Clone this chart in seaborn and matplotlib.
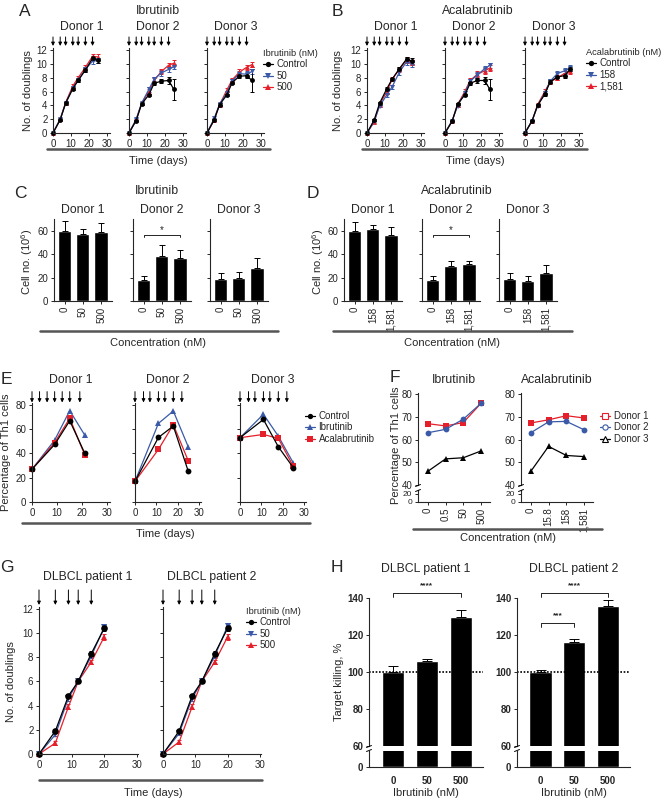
import numpy as np
import pandas as pd
import seaborn as sns
from matplotlib import pyplot as plt
from matplotlib.lines import Line2D

W, H = 663, 800
RED = "#e5202a"
BLUE = "#3a5aa8"

# ---------- data: A / B (doublings over time) ----------
donors = ["Donor 1", "Donor 2", "Donor 3"]
ab_days = [0, 4, 7, 11, 14, 18, 22, 25]
ab_arrows = [0, 4, 7, 11, 14, 18, 22]
a_ctrl = [[0, 1.9, 4.3, 6.4, 7.6, 9.1, 10.8, 10.5],
          [0, 1.8, 4.2, 5.5, 7.2, 7.5, 7.6, 6.3],
          [0, 1.9, 4.1, 5.5, 7.3, 8.2, 8.3, 7.6]]
a_ctrl_err = [[0, 0.1, 0.2, 0.2, 0.2, 0.3, 0.3, 0.4],
              [0, 0.1, 0.2, 0.2, 0.2, 0.3, 0.5, 1.5],
              [0, 0.1, 0.2, 0.2, 0.2, 0.2, 0.4, 1.7]]
a_50 = [[0, 2.0, 4.3, 6.5, 7.7, 9.2, 10.4, 10.5],
        [0, 2.0, 4.3, 6.3, 7.8, 8.7, 9.2, 9.6],
        [0, 2.1, 4.2, 5.8, 7.5, 8.6, 8.5, 8.9]]
a_500 = [[0, 2.0, 4.4, 6.8, 8.0, 9.5, 11.1, 11.0],
         [0, 1.9, 4.3, 6.0, 7.6, 8.9, 9.8, 10.1],
         [0, 1.9, 4.1, 6.2, 7.7, 8.8, 9.5, 9.9]]
b_ctrl = [[0, 1.9, 4.3, 6.4, 7.8, 9.3, 10.7, 10.4],
          [0, 1.7, 4.2, 5.5, 7.2, 7.6, 7.6, 6.3],
          [0, 1.8, 4.0, 5.6, 7.4, 8.1, 8.3, 9.2]]
b_ctrl_err = [[0, 0.1, 0.2, 0.2, 0.2, 0.3, 0.3, 0.4],
              [0, 0.1, 0.2, 0.2, 0.2, 0.3, 0.5, 1.5],
              [0, 0.1, 0.2, 0.2, 0.2, 0.2, 0.4, 0.3]]
b_158 = [[0, 1.7, 3.9, 5.5, 6.7, 8.8, 10.3, 10.0],
         [0, 1.8, 3.9, 5.8, 7.5, 8.4, 9.3, 9.8],
         [0, 1.8, 3.9, 5.8, 7.5, 8.6, 9.0, 9.4]]
b_1581 = [[0, 1.6, 4.1, 6.0, 7.8, 9.2, 10.6, 10.2],
          [0, 1.8, 4.1, 6.0, 7.6, 8.5, 9.0, 9.4],
          [0, 1.8, 4.1, 6.0, 7.4, 8.0, 8.6, 8.9]]
trt_err = [0, 0.1, 0.2, 0.3, 0.3, 0.4, 0.4, 0.4]

# ---------- data: C / D (cell numbers) ----------
c_conc = ["0", "50", "500"]
d_conc = ["0", "158", "1,581"]
c_vals = [[60, 57, 58.5], [18, 38.7, 37], [18.5, 19.3, 28.4]]
c_errs = [[8.2, 4.2, 8.2], [3.7, 8.8, 6.2], [5.1, 5.2, 8.0]]
d_vals = [[59.7, 61.1, 56.3], [17.9, 29.9, 31.3], [18.5, 17.1, 24.2]]
d_errs = [[8.0, 3.7, 7.1], [3.4, 4.2, 3.1], [5.1, 4.5, 6.5]]

# ---------- data: E (Th1 % over time) ----------
e_days = [[0, 9, 15, 21], [0, 11, 18, 25], [0, 11, 18, 25]]
e_arrows = [[0, 3, 6, 9, 12, 15, 19], [0, 4, 7, 11, 14, 18, 22], [0, 4, 7, 11, 14, 18, 22]]
e_ctrl = [[27, 47.4, 67, 40], [17, 53.2, 62.6, 25.4], [53, 68, 45.5, 28.4]]
e_ibru = [[27, 51, 75.3, 55], [17, 64.8, 75, 45.5], [53, 72.3, 54.3, 32.3]]
e_acala = [[27, 49, 69, 38.6], [17, 43.3, 63.7, 34], [53, 55.7, 52.4, 29.5]]

# ---------- data: F (Th1 % vs concentration) ----------
f_ibru_conc = ["0", "0.5", "50", "500"]
f_acala_conc = ["0", "15.8", "158", "1,581"]
f_ibru = [[67, 66, 67.5, 76], [63, 64.5, 69, 76], [46, 51.5, 52, 55]]
f_acala = [[67.3, 68.7, 70.5, 69.5], [63, 67.8, 68, 64.3], [46, 57, 53, 52.5]]

# ---------- data: G (DLBCL doublings) ----------
g_days = [0, 5, 9, 12, 16, 20]
g_arrows = [0, 5, 9, 12, 16]
g_ctrl = [[0, 1.9, 4.8, 6.0, 8.3, 10.4], [0, 1.9, 4.8, 6.0, 8.3, 10.4]]
g_50 = [[0, 1.6, 4.6, 6.0, 8.1, 10.5], [0, 1.7, 4.6, 6.0, 8.1, 10.6]]
g_500 = [[0, 0.9, 3.9, 6.0, 7.6, 9.7], [0, 1.0, 3.9, 6.0, 7.6, 9.7]]
g_err = [0, 0.15, 0.2, 0.15, 0.2, 0.25]

# ---------- data: H (target killing) ----------
h_conc = ["0", "50", "500"]
h_vals = [[100, 106, 130], [100, 116, 135.5]]
h_errs = [[3.0, 1.2, 3.6], [1.2, 1.6, 3.6]]

sns.set_style("ticks")
plt.rcParams["font.family"] = ["Liberation Sans", "DejaVu Sans"]
plt.rcParams["mathtext.fontset"] = "custom"
plt.rcParams["mathtext.rm"] = "Liberation Sans"

TICK = 7
LAB = 8
TITLE = 8.8

fig = plt.figure(figsize=(W / 100, H / 100), dpi=100)


def add_ax(x0, y0, x1, y1):
    return fig.add_axes([x0 / W, 1 - y1 / H, (x1 - x0) / W, (y1 - y0) / H])


def ftext(x, y, s, size=LAB, **kw):
    kw.setdefault("ha", "center")
    kw.setdefault("va", "center")
    fig.text(x / W, 1 - y / H, s, fontsize=size, **kw)


def fseg(x0, y0, x1, y1, color="black", lw=0.7):
    fig.add_artist(Line2D([x0 / W, x1 / W], [1 - y0 / H, 1 - y1 / H], color=color, lw=lw))


def base_style(ax, ylabels=True, size=TICK):
    sns.despine(ax=ax)
    for sp in ("left", "bottom"):
        ax.spines[sp].set_linewidth(0.8)
    ax.tick_params(length=2.5, width=0.7, labelsize=size, pad=1.5)
    if not ylabels:
        ax.tick_params(axis="y", labelleft=False)
    ax.set_xlabel("")
    ax.set_ylabel("")


def lines(ax, x, series, names, colors, markers, errs=None, ms=3.5):
    df = pd.concat([pd.DataFrame({"x": x, "y": v, "s": n}) for n, v in zip(names, series)])
    if errs is not None:
        for v, e, c in zip(series, errs, colors):
            ax.errorbar(x, v, yerr=e, fmt="none", ecolor=c, elinewidth=0.7,
                        capsize=1.2, capthick=0.7, clip_on=False)
    sns.lineplot(data=df, x="x", y="y", hue="s", style="s",
                 palette=dict(zip(names, colors)), markers=dict(zip(names, markers)),
                 dashes=False, markersize=ms, markeredgewidth=0, linewidth=0.9,
                 legend=False, errorbar=None, sort=False, ax=ax, clip_on=False)


def arrows(ax, days, y0, y1):
    tr = ax.get_xaxis_transform()
    for d in days:
        ax.annotate("", xy=(d, y0), xytext=(d, y1), xycoords=tr, textcoords=tr,
                    annotation_clip=False,
                    arrowprops=dict(arrowstyle="-|>", color="black", lw=0.7,
                                    mutation_scale=5, shrinkA=0, shrinkB=0))


def legend(x, y, names, colors, markers, title=None, size=7, hollow=False):
    handles = [Line2D([], [], color=c, marker=m, ms=3.8, lw=0.9,
                      mfc="white" if hollow else c, mec=c, mew=0.8 if hollow else 0)
               for c, m in zip(colors, markers)]
    fig.legend(handles, names, title=title, loc="upper left",
               bbox_to_anchor=(x / W, 1 - y / H), frameon=False, fontsize=size,
               title_fontsize=size - 0.3, handlelength=1.0, handletextpad=0.4,
               labelspacing=0.15, borderpad=0, borderaxespad=0, alignment="left")


def bars(ax, labels, vals, errs, width, capsize=2):
    sns.barplot(x=labels, y=vals, color="black", width=width, errorbar=None,
                saturation=1, ax=ax)
    if errs is not None:
        ax.errorbar(range(len(vals)), vals, yerr=[[0] * len(vals), errs], fmt="none",
                    ecolor="black", elinewidth=0.7, capsize=capsize, capthick=0.7,
                    clip_on=False)


def bracket(ax, x0, x1, y, drop, text, ty, size=7, weight="normal"):
    ax.plot([x0, x0, x1, x1], [y - drop, y, y, y - drop], color="black", lw=0.6,
            clip_on=False)
    ax.text((x0 + x1) / 2, ty, text, ha="center", va="center", fontsize=size,
            fontweight=weight, clip_on=False)


# ================= A & B =================
def growth_panel(boxes, ctrl, ctrl_err, low, high, low_name, high_name):
    for i, box in enumerate(boxes):
        ax = add_ax(*box)
        lines(ax, ab_days, [high[i], low[i], ctrl[i]], [high_name, low_name, "Control"],
              [RED, BLUE, "black"], ["^", "v", "o"], [trt_err, trt_err, ctrl_err[i]])
        ax.set_xlim(0, 31.7)
        ax.set_ylim(0, 12.3)
        ax.set_xticks([0, 10, 20, 30])
        ax.set_yticks(range(0, 13, 2))
        base_style(ax, ylabels=(i == 0))
        arrows(ax, ab_arrows, 1.024, 1.13)
        ftext((box[0] + box[2]) / 2, 27, donors[i], size=TITLE)


a_boxes = [(53, 48, 110, 133), (129, 48, 186, 133), (207, 48, 264, 133)]
growth_panel(a_boxes, a_ctrl, a_ctrl_err, a_50, a_500, "50", "500")
ftext(25, 12, "A", size=12.5)
ftext(158, 11, "Ibrutinib", size=TITLE)
ftext(28, 91, "No. of doublings", rotation=90)
fseg(47, 149, 270, 149, color="#555555", lw=1.8)
ftext(158, 161, "Time (days)")
legend(263, 49, ["Control", "50", "500"], ["black", BLUE, RED], ["o", "v", "^"],
       title="Ibrutinib (nM)")

b_boxes = [(367, 48, 424, 133), (445, 48, 502, 133), (525, 48, 582, 133)]
growth_panel(b_boxes, b_ctrl, b_ctrl_err, b_158, b_1581, "158", "1,581")
ftext(337, 12, "B", size=12.5)
ftext(478, 11, "Acalabrutinib", size=TITLE)
ftext(338, 91, "No. of doublings", rotation=90)
fseg(362, 149, 587, 149, color="#555555", lw=1.8)
ftext(475, 161, "Time (days)")
legend(586, 48, ["Control", "158", "1,581"], ["black", BLUE, RED], ["o", "v", "^"],
       title="Acalabrutinib (nM)")


# ================= C & D =================
def cell_panel(boxes, conc, vals, errs):
    for i, box in enumerate(boxes):
        ax = add_ax(*box)
        bars(ax, conc, vals[i], errs[i], 0.72)
        ax.set_xlim(-0.58, 2.6)
        ax.set_ylim(0, 70)
        ax.set_yticks([0, 20, 40, 60])
        base_style(ax, ylabels=(i == 0))
        ax.tick_params(axis="x", rotation=90)
        ftext((box[0] + box[2]) / 2, 210, donors[i], size=TITLE)
        if i == 1:
            bracket(ax, 0, 2, 56.5, 1.8, "*", 60.5)


c_boxes = [(54, 219, 112, 301), (133, 219, 191, 301), (210, 219, 268, 301)]
cell_panel(c_boxes, c_conc, c_vals, c_errs)
ftext(20, 193, "C", size=12.5)
ftext(157, 191, "Ibrutinib", size=TITLE)
ftext(27, 262, "Cell no. (10$^6$)", rotation=90)
fseg(40, 331, 278, 331, color="#555555", lw=1.8)
ftext(158, 343, "Concentration (nM)")

d_boxes = [(344, 219, 402, 301), (422, 219, 480, 301), (499, 219, 557, 301)]
cell_panel(d_boxes, d_conc, d_vals, d_errs)
ftext(313, 193, "D", size=12.5)
ftext(457, 191, "Acalabrutinib", size=TITLE)
ftext(318, 262, "Cell no. (10$^6$)", rotation=90)
fseg(333, 331, 572, 331, color="#555555", lw=1.8)
ftext(452, 343, "Concentration (nM)")

# ================= E =================
e_boxes = [(32, 403, 110, 502), (135, 403, 201, 502), (240, 403, 306, 502)]
e_names = ["Ibrutinib", "Acalabrutinib", "Control"]
for i, box in enumerate(e_boxes):
    ax = add_ax(*box)
    lines(ax, e_days[i], [e_ibru[i], e_acala[i], e_ctrl[i]], e_names,
          [BLUE, RED, "black"], ["^", "s", "o"], ms=4.2)
    ax.set_xlim(0, 31)
    ax.set_ylim(0, 81.6)
    ax.set_xticks([0, 10, 20, 30])
    ax.set_yticks([0, 20, 40, 60, 80])
    base_style(ax, ylabels=(i == 0))
    arrows(ax, e_arrows[i], 1.005, 1.115)
    ftext((box[0] + box[2]) / 2, 380, donors[i], size=TITLE)
ftext(6, 380, "E", size=12.5)
ftext(6, 452, "Percentage of Th1 cells", rotation=90)
fseg(22, 523, 310, 523, color="#555555", lw=1.8)
ftext(165, 534, "Time (days)")
legend(305, 411, ["Control", "Ibrutinib", "Acalabrutinib"], ["black", BLUE, RED],
       ["o", "^", "s"])

# ================= F =================
f_boxes = [(418, 490), (521, 593)]
f_titles = ["Ibrutinib", "Acalabrutinib"]
for (x0, x1), conc, vals, title in zip(f_boxes, [f_ibru_conc, f_acala_conc],
                                       [f_ibru, f_acala], f_titles):
    top = add_ax(x0, 393, x1, 485)
    bot = add_ax(x0, 490, x1, 502)
    pos = np.arange(len(conc))
    lines(top, pos, vals, donors, [RED, BLUE, "black"], ["s", "o", "^"], ms=4.2)
    for ax in (top, bot):
        ax.set_xlim(-0.55, 3.5)
    top.set_ylim(40, 80.5)
    top.set_yticks([40, 50, 60, 70, 80])
    bot.set_ylim(0, 30)
    bot.set_yticks([0, 20])
    base_style(top)
    base_style(bot)
    bot.tick_params(axis="y", labelsize=6)
    top.spines["bottom"].set_visible(False)
    top.tick_params(axis="x", bottom=False, labelbottom=False)
    bot.set_xticks(pos)
    bot.set_xticklabels(conc)
    bot.tick_params(axis="x", rotation=90)
    fseg(x0 - 2.5, 486.5, x0 + 2.5, 484.5)
    fseg(x0 - 2.5, 491.5, x0 + 2.5, 489.5)
    ftext((x0 + x1) / 2, 380, title, size=TITLE)
ftext(395, 378, "F", size=12.5)
ftext(396, 445, "Percentage of Th1 cells", rotation=90)
fseg(413, 529, 602, 529, color="#555555", lw=1.8)
ftext(508, 538, "Concentration (nM)")
legend(600, 411, donors, [RED, BLUE, "black"], ["s", "o", "^"], hollow=True)

# ================= G =================
g_boxes = [(39, 607, 138, 754), (163, 607, 261, 754)]
for i, box in enumerate(g_boxes):
    ax = add_ax(*box)
    lines(ax, g_days, [g_500[i], g_50[i], g_ctrl[i]], ["500", "50", "Control"],
          [RED, BLUE, "black"], ["^", "v", "o"], [g_err, g_err, g_err], ms=4.8)
    ax.set_xlim(0, 30.3)
    ax.set_ylim(0, 12.15)
    ax.set_xticks([0, 10, 20, 30])
    ax.set_yticks(range(0, 13, 2))
    base_style(ax, ylabels=(i == 0))
    arrows(ax, g_arrows, 1.014, 1.116)
ftext(7, 567, "G", size=12.5)
ftext(88, 577, "DLBCL patient 1", size=TITLE)
ftext(212, 577, "DLBCL patient 2", size=TITLE)
ftext(11, 682, "No. of doublings", rotation=90)
fseg(39, 780, 262, 780, color="#555555", lw=1.8)
ftext(153, 793, "Time (days)")
legend(246, 607, ["Control", "50", "500"], ["black", BLUE, RED], ["o", "v", "^"],
       title="Ibrutinib (nM)")

# ================= H =================
h_boxes = [(369, 483), (517, 630)]
h_titles = ["DLBCL patient 1", "DLBCL patient 2"]
for i, (x0, x1) in enumerate(h_boxes):
    top = add_ax(x0, 598, x1, 746)
    bot = add_ax(x0, 751, x1, 767)
    bars(top, h_conc, h_vals[i], h_errs[i], 0.66, capsize=3.5)
    bars(bot, h_conc, h_vals[i], None, 0.66)
    for ax in (top, bot):
        ax.set_xlim(-0.7, 2.65)
        base_style(ax)
    top.set_ylim(60, 140)
    top.set_yticks([60, 80, 100, 120, 140])
    bot.set_ylim(0, 10)
    bot.set_yticks([0])
    top.spines["bottom"].set_visible(False)
    top.tick_params(axis="x", bottom=False, labelbottom=False)
    bot.tick_params(axis="x", bottom=False, pad=4)
    for ax in (top, bot):
        plt.setp(ax.get_yticklabels() + ax.get_xticklabels(), fontweight="bold")
    top.axhline(100, color="black", lw=1.2, ls=(0, (1, 1)))
    bracket(top, 0, 2, 142.9, 2.2, "****", 146.5, size=6, weight="bold")
    if i == 1:
        bracket(top, 0, 1, 126.6, 2.1, "***", 130.2, size=6, weight="bold")
    fseg(x0 - 2.5, 747.5, x0 + 2.5, 745.5)
    fseg(x0 - 2.5, 751.5, x0 + 2.5, 749.5)
    ftext((x0 + x1) / 2, 569, h_titles[i], size=TITLE)
    ftext((x0 + x1) / 2, 793, "Ibrutinib (nM)")
ftext(337, 568, "H", size=12.5)
ftext(339, 682, "Target killing, %", rotation=90)

fig.savefig("out.png", dpi=100)
